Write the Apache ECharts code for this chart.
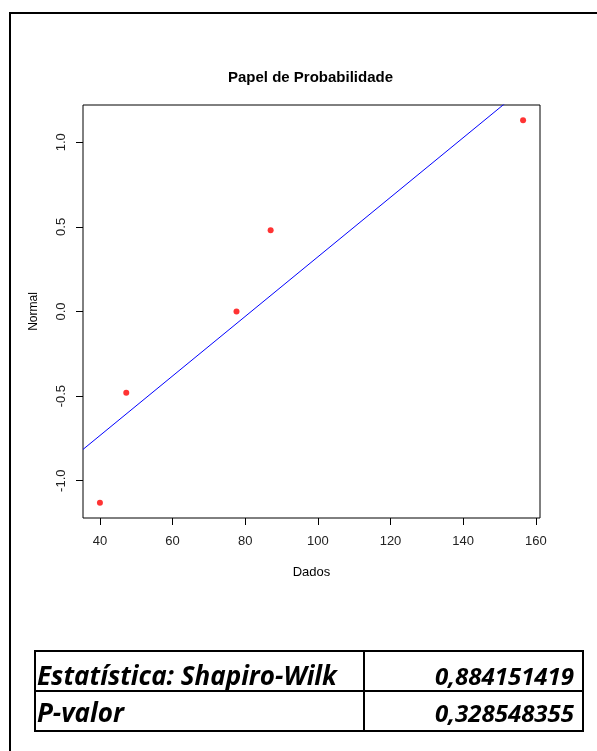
<!DOCTYPE html>
<html>
<head>
<meta charset="utf-8">
<script src="https://cdn.jsdelivr.net/npm/echarts@6/dist/echarts.min.js"></script>
<style>
  html, body { margin: 0; padding: 0; background: #fff; }
  #chart { width: 597px; height: 751px; }
</style>
</head>
<body>
<div id="chart"></div>
<script>
// Sample values (x) and their normal scores (y)
const dados = [40.0, 47.25, 77.6, 87.0, 156.5];
const normal = [-1.13, -0.48, 0.0, 0.48, 1.13];

// Reference line y = intercept + slope * x
const lineIntercept = -1.437;
const lineSlope = 0.0176;

// Axis ticks
const xTicks = [40, 60, 80, 100, 120, 140, 160];
const yTicks = [-1.0, -0.5, 0.0, 0.5, 1.0];

// Test summary rows
const statLabels = ['Estatística: Shapiro-Wilk', 'P-valor'];
const statValues = ['0,884151419', '0,328548355'];

// Axis ranges padded by 4% on each side
function padded(arr) {
  const lo = Math.min(...arr), hi = Math.max(...arr);
  const p = (hi - lo) * 0.04;
  return [lo - p, hi + p];
}
const xr = padded(dados);
const yr = padded(normal);

const points = dados.map((d, i) => [d, normal[i]]);
const lineData = [xr[0], xr[1]].map(x => [x, lineIntercept + lineSlope * x]);

const chart = echarts.init(document.getElementById('chart'), null, { renderer: 'canvas' });

const font = 'Liberation Sans, Arial, sans-serif';
const tableFont = '"Open Sans", sans-serif';

// Summary table drawn as graphic elements
const tbl = { x: 35, y: 651, w: 548, h: 80, col: 329 };
const rowTextY = [678, 715];
const tableGraphics = [
  { type: 'rect', shape: { x: tbl.x, y: tbl.y, width: tbl.w, height: tbl.h },
    style: { fill: 'none', stroke: '#000', lineWidth: 2 } },
  { type: 'line', shape: { x1: tbl.x, y1: tbl.y + tbl.h / 2, x2: tbl.x + tbl.w, y2: tbl.y + tbl.h / 2 },
    style: { stroke: '#000', lineWidth: 2 } },
  { type: 'line', shape: { x1: tbl.x + tbl.col, y1: tbl.y, x2: tbl.x + tbl.col, y2: tbl.y + tbl.h },
    style: { stroke: '#000', lineWidth: 2 } }
];
statLabels.forEach((t, i) => {
  tableGraphics.push({
    type: 'text', x: tbl.x + 2, y: rowTextY[i],
    style: { text: t, fill: '#000', font: 'italic bold 26px ' + tableFont,
             textAlign: 'left', textVerticalAlign: 'middle' }
  });
  tableGraphics.push({
    type: 'text', x: tbl.x + tbl.w - 9, y: rowTextY[i],
    style: { text: statValues[i], fill: '#000', font: 'italic bold 24px ' + tableFont,
             textAlign: 'right', textVerticalAlign: 'middle' }
  });
});

chart.setOption({
  animation: false,
  backgroundColor: '#fff',
  title: {
    text: 'Papel de Probabilidade',
    left: 228, top: 70, padding: 0,
    textStyle: { fontFamily: font, fontWeight: 'bold', fontSize: 15, color: '#000' }
  },
  grid: {
    left: 83, top: 105, width: 457, height: 413,
    show: true, borderColor: '#000', borderWidth: 1, backgroundColor: 'transparent'
  },
  xAxis: {
    type: 'value', min: xr[0], max: xr[1],
    name: 'Dados', nameLocation: 'middle', nameGap: 48,
    nameTextStyle: { fontFamily: font, fontSize: 13, color: '#000' },
    axisLine: { show: false, onZero: false },
    axisTick: { show: true, length: 7, lineStyle: { color: '#000' }, customValues: xTicks },
    axisLabel: { margin: 17, fontFamily: font, fontSize: 13, color: '#222',
                 customValues: xTicks, formatter: v => String(Math.round(v)) },
    splitLine: { show: false }
  },
  yAxis: {
    type: 'value', min: yr[0], max: yr[1],
    name: 'Normal', nameLocation: 'middle', nameGap: 43, nameRotate: 90,
    nameTextStyle: { fontFamily: font, fontSize: 12, color: '#000' },
    axisLine: { show: false, onZero: false },
    axisTick: { show: true, length: 7, lineStyle: { color: '#000' }, customValues: yTicks },
    axisLabel: { margin: 15, rotate: 90, fontFamily: font, fontSize: 13, color: '#222',
                 customValues: yTicks, formatter: v => v.toFixed(1) },
    splitLine: { show: false }
  },
  series: [
    {
      type: 'line', data: lineData, symbol: 'none', clip: true,
      lineStyle: { color: '#0000ff', width: 1 }, silent: true, z: 2
    },
    {
      type: 'scatter', data: points, symbol: 'circle', symbolSize: 6,
      itemStyle: { color: '#ff0000' }, z: 3
    }
  ],
  graphic: [
    { type: 'rect', shape: { x: 10, y: 13, width: 800, height: 900 },
      style: { fill: 'none', stroke: '#000', lineWidth: 2 } },
    ...tableGraphics
  ]
});
</script>
</body>
</html>
